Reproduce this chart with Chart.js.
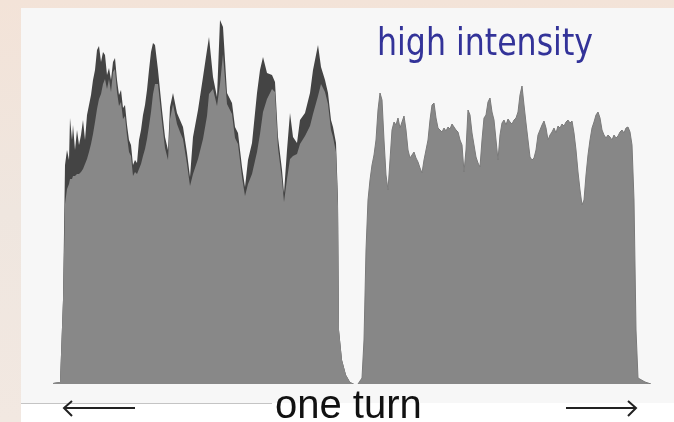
<!DOCTYPE html>
<html lang="en">
<head>
    <meta charset="UTF-8">
    <title>Bunch intensity over one turn</title>
    <style>
        body {
            margin: 0;
            padding: 0;
            background-color: #f1e4da;
        }
        canvas {
            display: block;
        }
    </style>
    <script src="https://cdn.jsdelivr.net/npm/chart.js"></script>
</head>
<body>
    <canvas id="turnChart" width="674" height="422"></canvas>

    <script>
        // First batch: position along the turn (bins) and signal level (counts)
        const leftPos = [3, 10, 13, 15, 17, 19, 20, 22, 23, 25, 27, 29, 31, 33, 35, 37, 39, 41, 43, 45,
            47, 49, 51, 53, 55, 57, 59, 61, 63, 65, 67, 69, 71, 73, 75, 77, 79, 81, 83, 85,
            87, 89, 91, 93, 95, 97, 99, 101, 103, 105, 108, 112, 115, 118, 120, 123, 127, 130, 133, 137,
            140, 143, 148, 153, 157, 159, 163, 167, 170, 173, 177, 182, 185, 188, 192, 195, 198, 202, 207, 210,
            213, 217, 222, 225, 228, 232, 234, 237, 240, 243, 247, 250, 255, 260, 263, 268, 271, 275, 278, 281,
            283, 286, 288, 289, 292, 296, 300, 304];
        // upper (dark) trace of the first batch
        const leftPeak = [1, 2, 84, 219, 234, 224, 266, 244, 259, 234, 254, 239, 249, 264, 244, 269, 279, 289, 304, 314,
            334, 338, 322, 332, 329, 309, 316, 304, 322, 326, 304, 289, 294, 276, 279, 259, 244, 239, 219, 224,
            221, 244, 254, 269, 279, 294, 314, 332, 341, 339, 314, 274, 247, 234, 277, 291, 271, 264, 257, 231,
            207, 247, 274, 307, 334, 347, 307, 287, 364, 357, 291, 281, 257, 251, 217, 197, 224, 241, 291, 314,
            327, 311, 309, 302, 247, 214, 191, 234, 271, 247, 241, 264, 271, 291, 314, 339, 317, 304, 291, 264,
            257, 241, 184, 54, 24, 9, 2, 0];
        // averaged (grey) level of the first batch
        const leftBody = [1, 2, 84, 180, 195, 200, 205, 205, 208, 208, 210, 210, 212, 215, 220, 225, 232, 240, 250, 262,
            275, 285, 290, 300, 305, 295, 305, 292, 312, 315, 292, 278, 282, 265, 268, 248, 232, 228, 208, 212,
            210, 215, 220, 228, 235, 245, 258, 272, 290, 300, 300, 262, 236, 224, 265, 280, 260, 252, 245, 220,
            198, 210, 225, 245, 268, 290, 295, 278, 300, 330, 280, 270, 246, 240, 207, 188, 200, 210, 232, 250,
            272, 285, 295, 292, 236, 204, 182, 205, 225, 228, 230, 240, 248, 258, 270, 288, 300, 292, 280, 254,
            247, 232, 178, 54, 24, 9, 2, 0];

        // Second batch
        const rightPos = [308, 312, 314, 316, 318, 320, 322, 324, 326, 328, 330, 332, 334, 336, 338, 340, 342, 344, 346, 348,
            350, 352, 354, 356, 358, 360, 362, 364, 366, 368, 370, 372, 374, 376, 378, 380, 382, 384, 386, 388,
            390, 392, 394, 396, 398, 400, 402, 404, 406, 408, 410, 412, 414, 416, 418, 420, 422, 424, 426, 428,
            430, 432, 434, 436, 438, 440, 442, 444, 446, 448, 450, 452, 454, 456, 458, 460, 462, 464, 466, 468,
            470, 472, 474, 476, 478, 480, 482, 484, 486, 488, 490, 492, 494, 496, 498, 500, 502, 504, 506, 508,
            510, 512, 514, 516, 518, 520, 522, 524, 526, 528, 530, 532, 534, 536, 538, 540, 542, 544, 546, 548,
            550, 552, 554, 556, 558, 560, 562, 564, 566, 568, 570, 572, 574, 576, 578, 580, 582, 584, 586, 588,
            595, 601];
        const rightLevel = [0, 6, 44, 134, 184, 204, 219, 229, 244, 274, 291, 284, 244, 209, 194, 224, 254, 262, 259, 266,
            256, 262, 268, 254, 234, 226, 229, 232, 226, 222, 216, 211, 224, 234, 244, 264, 279, 281, 266, 256,
            254, 252, 256, 253, 257, 255, 260, 257, 254, 252, 244, 239, 212, 234, 274, 269, 251, 239, 227, 221,
            217, 244, 266, 269, 282, 286, 272, 264, 244, 224, 249, 261, 264, 259, 265, 262, 260, 264, 266, 272,
            289, 298, 279, 261, 244, 227, 224, 226, 234, 249, 254, 259, 263, 256, 244, 249, 252, 256, 251, 258,
            256, 260, 258, 262, 264, 261, 263, 251, 234, 212, 194, 179, 184, 209, 229, 244, 256, 262, 269, 272,
            266, 254, 249, 246, 249, 247, 244, 249, 246, 248, 252, 254, 251, 256, 257, 252, 239, 184, 54, 6,
            2, 0];

        const labelTop = 'high intensity';
        const labelBottom = 'one turn';

        const toPoints = (xs, ys) => xs.map((x, i) => ({ x: x, y: ys[i] }));

        // Frame, captions and arrows drawn around the chart area
        const framePlugin = {
            id: 'frame',
            beforeDraw(chart) {
                const ctx = chart.ctx;
                ctx.save();
                const grad = ctx.createLinearGradient(0, 0, 0, chart.height);
                grad.addColorStop(0, '#f3e3d8');
                grad.addColorStop(0.5, '#efe6df');
                grad.addColorStop(1, '#f2e8e1');
                ctx.fillStyle = grad;
                ctx.fillRect(0, 0, chart.width, chart.height);
                ctx.fillStyle = '#f7f7f7';
                ctx.fillRect(21, 8, chart.width - 21, 395);
                ctx.fillStyle = '#ffffff';
                ctx.fillRect(21, 403, chart.width - 21, chart.height - 403);
                ctx.strokeStyle = '#c4c4c4';
                ctx.lineWidth = 1;
                ctx.beginPath();
                ctx.moveTo(21, 403.5);
                ctx.lineTo(272, 403.5);
                ctx.stroke();
                ctx.restore();
            },
            afterDraw(chart) {
                const ctx = chart.ctx;
                ctx.save();
                // top caption, squeezed to a Tahoma-like width
                ctx.font = '37px "DejaVu Sans", Verdana, sans-serif';
                ctx.fillStyle = '#333399';
                ctx.textBaseline = 'alphabetic';
                const w = ctx.measureText(labelTop).width;
                ctx.translate(377, 55);
                ctx.scale(216 / w, 1);
                ctx.fillText(labelTop, 0, 0);
                ctx.restore();

                ctx.save();
                ctx.font = '40px "Liberation Sans", Arial, sans-serif';
                ctx.fillStyle = '#111111';
                ctx.fillText(labelBottom, 275, 418);

                ctx.strokeStyle = '#222222';
                ctx.lineWidth = 2;
                ctx.beginPath();
                ctx.moveTo(64, 408);
                ctx.lineTo(135, 408);
                ctx.moveTo(72, 401);
                ctx.lineTo(64, 408);
                ctx.lineTo(72, 416);
                ctx.moveTo(566, 408);
                ctx.lineTo(636, 408);
                ctx.moveTo(628, 401);
                ctx.lineTo(636, 408);
                ctx.lineTo(628, 416);
                ctx.stroke();
                ctx.restore();
            }
        };

        const ctx = document.getElementById('turnChart').getContext('2d');
        const turnChart = new Chart(ctx, {
            type: 'line',
            data: {
                datasets: [
                    {
                        label: 'first batch (mean)',
                        data: toPoints(leftPos, leftBody),
                        backgroundColor: '#888888',
                        borderWidth: 0,
                        fill: 'origin',
                        order: 0
                    },
                    {
                        label: 'first batch (peak)',
                        data: toPoints(leftPos, leftPeak),
                        backgroundColor: '#444444',
                        borderWidth: 0,
                        fill: 'origin',
                        order: 1
                    },
                    {
                        label: 'second batch',
                        data: toPoints(rightPos, rightLevel),
                        backgroundColor: '#878787',
                        borderColor: '#7a7a7a',
                        borderWidth: 1,
                        fill: 'origin',
                        order: 2
                    }
                ]
            },
            options: {
                responsive: false,
                animation: false,
                layout: {
                    padding: { left: 50, right: 22, top: 20, bottom: 38 }
                },
                elements: {
                    point: { radius: 0 },
                    line: { tension: 0 }
                },
                scales: {
                    x: { type: 'linear', min: 0, max: 602, display: false },
                    y: { min: 0, max: 364, display: false }
                },
                plugins: {
                    legend: { display: false },
                    tooltip: { enabled: false }
                }
            },
            plugins: [framePlugin]
        });
    </script>
</body>
</html>
